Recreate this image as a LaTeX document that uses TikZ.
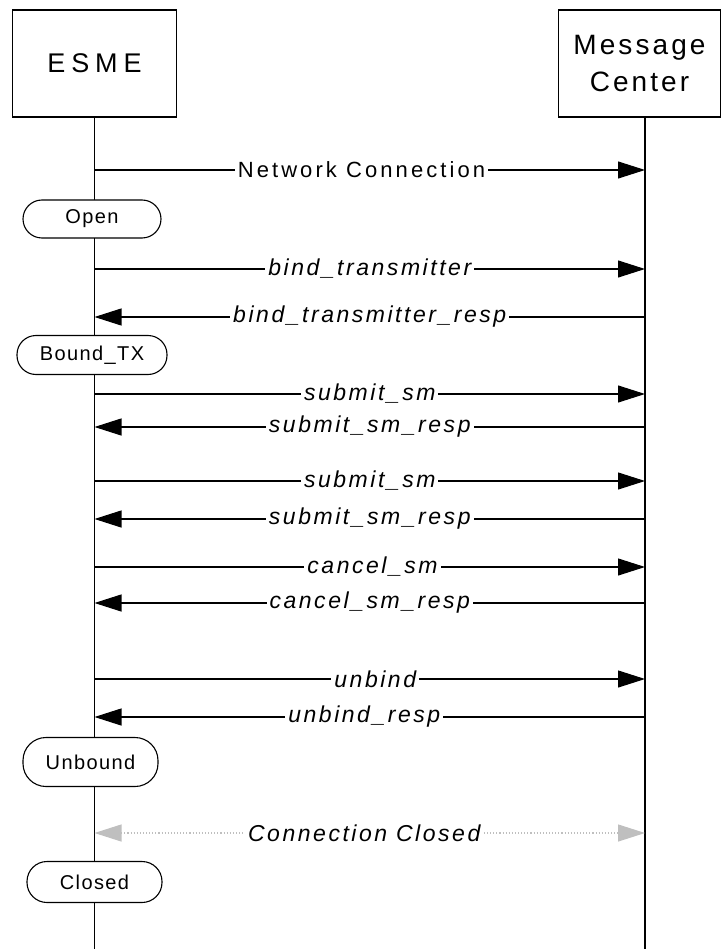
\documentclass[tikz,border=0pt]{standalone}
\usepackage{fontspec}
\setmainfont{Liberation Sans}
\usetikzlibrary{arrows.meta}
\begin{document}
\begin{tikzpicture}[x=1pt,y=-1pt,
  actor/.style={draw,line width=1.1pt,fill=white,inner sep=0pt,align=center},
  lifeline/.style={line width=1.1pt},
  state/.style={draw,line width=1.1pt,fill=white,rounded corners=19pt,inner sep=0pt,
    font=\fontsize{20}{22}\selectfont\addfontfeature{LetterSpace=7}},
  msg/.style={line width=1.1pt,-{Triangle[length=27pt,width=17pt]}},
  back/.style={line width=1.1pt,{Triangle[length=27pt,width=17pt]}-},
  lbl/.style={fill=white,inner sep=3pt,
    font=\fontsize{23}{25}\selectfont\itshape\addfontfeature{LetterSpace=11}},
  conn/.style={line width=1.1pt,dotted,color=black!25,
    {Triangle[length=27pt,width=17pt]}-{Triangle[length=27pt,width=17pt]}}
]
\useasboundingbox (0,0) rectangle (724,949);
% actors
\node[actor,minimum width=164pt,minimum height=107pt,
  font=\fontsize{27}{30}\selectfont\addfontfeature{LetterSpace=22}] (esme) at (94.5,63.5) {ESME};
\node[actor,minimum width=162pt,minimum height=107pt,
  font=\fontsize{28}{37}\selectfont\addfontfeature{LetterSpace=11}] (mc) at (639.5,63.5) {Message\\Center};
% lifelines
\coordinate (eTop) at (94.5,117);
\coordinate (eBot) at (94.5,949);
\coordinate (mTop) at (645,117);
\coordinate (mBot) at (645,949);
\draw[lifeline] (eTop) -- (eBot);
\draw[lifeline] (mTop) -- (mBot);
% row coordinates
\foreach \n/\y in {1/170,2/269,3/317,4/394,5/427,6/481,7/519,8/567,9/603,10/679,11/717,12/833}{
  \coordinate (e\n) at (94.5,\y);
  \coordinate (m\n) at (645,\y);
}
% states
\node[state,minimum width=138pt,minimum height=38pt] (open) at (92,219) {Open};
\node[state,minimum width=150pt,minimum height=39pt] (bound) at (92,355) {Bound\_TX};
\node[state,minimum width=135pt,minimum height=49pt,rounded corners=23pt] (unbound) at (90.5,762) {Unbound};
\node[state,minimum width=135pt,minimum height=41pt,rounded corners=20pt] (closed) at (94.5,882) {Closed};
% messages
\draw[msg] (e1) -- (m1) node[lbl,pos=0.485,font=\fontsize{22}{24}\selectfont\upshape\addfontfeature{LetterSpace=14}] (l1) {Network Connection};
\draw[msg] (e2) -- (m2) node[lbl,pos=0.50] (l2) {bind\_transmitter};
\draw[back] (e3) -- (m3) node[lbl,pos=0.50] (l3) {bind\_transmitter\_resp};
\draw[msg] (e4) -- (m4) node[lbl,pos=0.50] (l4) {submit\_sm};
\draw[back] (e5) -- (m5) node[lbl,pos=0.50] (l5) {submit\_sm\_resp};
\draw[msg] (e6) -- (m6) node[lbl,pos=0.50] (l6) {submit\_sm};
\draw[back] (e7) -- (m7) node[lbl,pos=0.50] (l7) {submit\_sm\_resp};
\draw[msg] (e8) -- (m8) node[lbl,pos=0.505] (l8) {cancel\_sm};
\draw[back] (e9) -- (m9) node[lbl,pos=0.50] (l9) {cancel\_sm\_resp};
\draw[msg] (e10) -- (m10) node[lbl,pos=0.51] (l10) {unbind};
\draw[back] (e11) -- (m11) node[lbl,pos=0.49] (l11) {unbind\_resp};
\draw[conn] (e12) -- (m12) node[lbl,pos=0.49,text=black] (l12) {Connection Closed};
\end{tikzpicture}
\end{document}
